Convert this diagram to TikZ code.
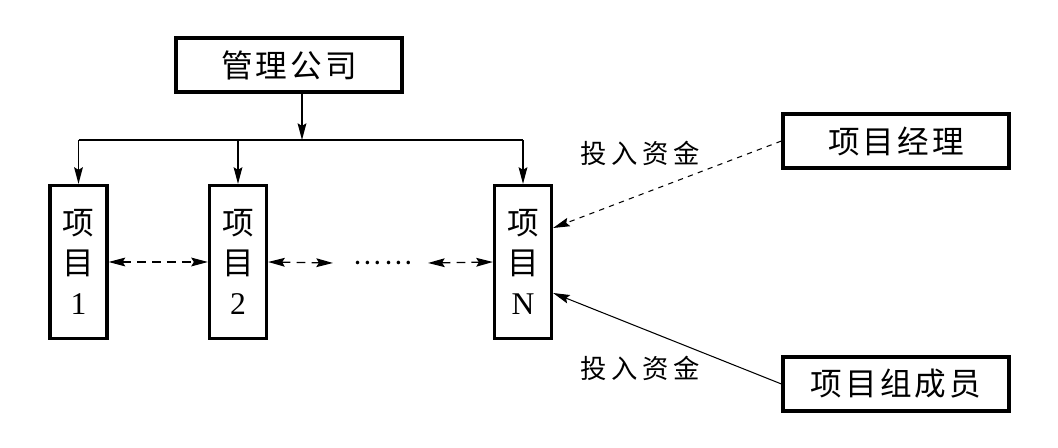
\documentclass[tikz,border=0pt]{standalone}
\usepackage{fontspec}
\setmainfont{Liberation Serif}
\newfontfamily\cjk[LetterSpace=10]{Noto Sans CJK SC}
\newfontfamily\cjklbl[LetterSpace=18]{Noto Sans CJK SC}
\usetikzlibrary{arrows.meta}

\tikzset{
  box/.style={draw, line width=1.8pt, minimum width=4.52cm, minimum height=1.08cm, inner sep=0pt, font=\fontsize{18pt}{20pt}\selectfont\cjk},
  tallbox/.style={draw, line width=1.8pt, minimum width=1.14cm, minimum height=3.06cm, inner sep=0pt, align=center, font=\fontsize{18pt}{22.7pt}\selectfont},
  lbl/.style={font=\fontsize{15pt}{18pt}\selectfont\cjklbl},
}

\begin{document}
\begin{tikzpicture}[x=0.02cm, y=-0.02cm, >={Stealth[length=9.5pt, width=5pt, inset=1.5pt]}, line width=0.75pt]
                \useasboundingbox (0,0) rectangle (1058,448);

                \node[box] (mgmt) at (289,65) {管理公司};
                \node[tallbox] (p1) at (78.5,262) {{\cjk 项}\\{\cjk 目}\\1};
                \node[tallbox] (p2) at (238,262) {{\cjk 项}\\{\cjk 目}\\2};
                \node[tallbox] (pN) at (523,262) {{\cjk 项}\\{\cjk 目}\\N};
                \node[box] (mgr) at (896,141) {项目经理};
                \node[box] (team) at (896,384) {项目组成员};

                \coordinate (bus) at (302,140);
                \draw[->] (mgmt.south -| bus) -- (bus);
                \draw (p1.north |- bus) -- (pN.north |- bus);
                \draw[->] (p1.north |- bus) -- (p1.north);
                \draw[->] (p2.north |- bus) -- (p2.north);
                \draw[->] (pN.north |- bus) -- (pN.north);

                \coordinate (l2) at (333,263);
                \coordinate (rN) at (428,263);
                \node[font=\fontsize{15pt}{18pt}\selectfont\cjk] (dots) at (383,263) {……};
                \draw[<->, dash pattern=on 5pt off 3.5pt] (p1.east) -- (p2.west);
                \draw[<->, dash pattern=on 5pt off 3.5pt] (p2.east) -- (l2);
                \draw[<->, dash pattern=on 5pt off 3.5pt] (rN) -- (pN.west);

                \draw[->, dash pattern=on 3pt off 3pt, line width=0.6pt] (mgr.west) -- ([yshift=0.68cm]pN.east);
                \draw[->, line width=0.6pt] (team.west) -- ([yshift=-0.62cm]pN.east);
                \node[lbl] (in1) at (640,153) {投入资金};
                \node[lbl] (in2) at (640,368) {投入资金};
            \end{tikzpicture}
\end{document}
